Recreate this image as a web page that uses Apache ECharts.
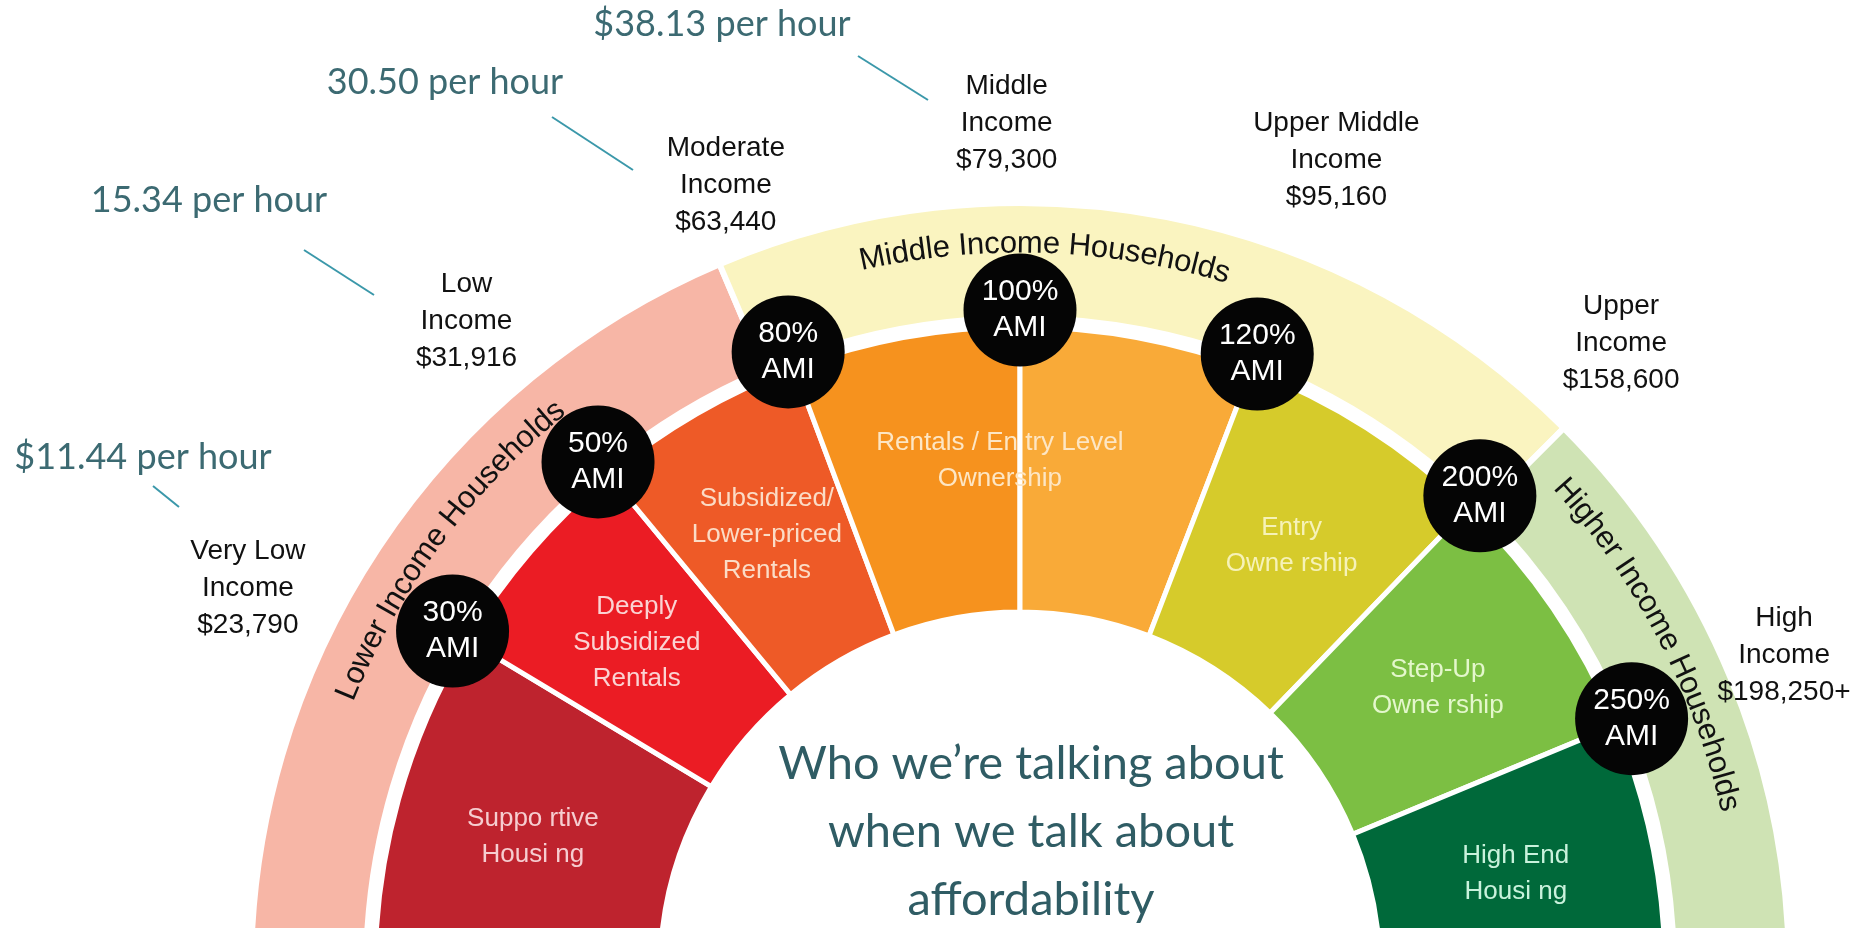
<!DOCTYPE html>
<html>
<head>
<meta charset="utf-8">
<script src="https://cdn.jsdelivr.net/npm/echarts@6/dist/echarts.min.js"></script>
<style>
  html, body { margin: 0; padding: 0; background: #fff; }
  #chart { width: 1872px; height: 928px; }
</style>
</head>
<body>
<div id="chart"></div>
<script>
// AMI thresholds and where they sit on the half ring (deg, 180 = left, 0 = right)
const amiLevels = ['30%', '50%', '80%', '100%', '120%', '200%', '250%'];
const amiAngles = [149, 129.6, 110.5, 90, 69, 46, 22.5];

const incomeGroups = ['Very Low', 'Low', 'Moderate', 'Middle', 'Upper Middle', 'Upper', 'High'];
const incomeValues = ['$23,790', '$31,916', '$63,440', '$79,300', '$95,160', '$158,600', '$198,250+'];

const hourlyWages = ['$11.44', '15.34', '30.50', '$38.13'];

const housingTypes = ['Supportive Housing', 'Deeply Subsidized Rentals', 'Subsidized/Lower-priced Rentals',
    'Rentals', 'Entry Level Ownership', 'Entry Ownership', 'Step-Up Ownership', 'High End Housing'];
const housingLabels = ['Suppo rtive\nHousi ng', 'Deeply\nSubsidized\nRentals', 'Subsidized/\nLower-priced\nRentals',
    '', '', 'Entry\nOwne rship', 'Step-Up\nOwne rship', 'High End\nHousi ng'];

const householdBands = ['Lower Income Households', 'Middle Income Households', 'Higher Income Households'];
const bandEdges = [180, 113, 45, 0];

// layout
const CX = 1020, CY = 972;
const segColors = ['#be232e', '#eb1c24', '#ee5a27', '#f6921e', '#f9aa38', '#d6cb2b', '#7cbf43', '#00693a'];
const segText = ['#f6cdd0', '#fbd3d3', '#fbdcc6', '#fde6c4', '#fde6c4', '#f6f2b8', '#e4f7cc', '#c9f2dc'];
const bandColors = ['#f7b6a6', '#faf4c0', '#cfe3b4'];
const bandTextAngle = [143.5, 88, 27.5];
const labelShift = [4.6, 0.8, 0, 0.9, -0.3, 0.3, 0];
const labelRadius = [862, 854, 840, 849, 871, 870, 827];

const segEdges = [180].concat(amiAngles, [0]);
const segSpans = housingTypes.map((n, i) => segEdges[i] - segEdges[i + 1]);
const bandSpans = householdBands.map((n, i) => bandEdges[i] - bandEdges[i + 1]);

const filler = { value: 180, name: '', itemStyle: { color: 'rgba(0,0,0,0)', borderWidth: 0 }, label: { show: false } };

// curved band titles: one scatter point per character
const ctx = document.createElement('canvas').getContext('2d');
ctx.font = '31px "Liberation Sans"';
function arcChars(text, centerAngle, r) {
    const chars = [...text];
    const widths = chars.map(c => ctx.measureText(c).width);
    const total = widths.reduce((a, b) => a + b, 0);
    const deg = 180 / Math.PI;
    const start = centerAngle + total / 2 / r * deg;
    let acc = 0;
    return chars.map((c, i) => {
        const a = start - (acc + widths[i] / 2) / r * deg;
        acc += widths[i];
        return { name: c, value: [r, a], label: { rotate: a - 90 } };
    });
}
const bandChars = [].concat(...householdBands.map((t, i) => arcChars(t, bandTextAngle[i], 728)));

// the two middle orange slices share one label
const rentalsAngle = (segEdges[3] + segEdges[5]) / 2 + 2.5;

const chart = echarts.init(document.getElementById('chart'));

chart.setOption({
    animation: false,
    backgroundColor: '#fff',
    title: {
        text: 'Who we’re talking about\nwhen we talk about\naffordability',
        left: 1026,
        top: 725,
        textAlign: 'center',
        textStyle: { fontFamily: 'Lato', fontSize: 47, fontWeight: 'normal', color: '#2f5c64', lineHeight: 68 }
    },
    polar: { center: [CX, CY], radius: 1200 },
    angleAxis: { type: 'value', min: 0, max: 360, startAngle: 0, clockwise: false, show: false },
    radiusAxis: { type: 'value', min: 0, max: 1200, show: false },
    series: [
        {
            type: 'pie',
            center: [CX, CY],
            radius: [654, 769],
            startAngle: 180,
            silent: true,
            z: 1,
            labelLine: { show: false },
            label: { show: false },
            itemStyle: { borderColor: '#fff', borderWidth: 6 },
            data: bandSpans.map((v, i) => ({ value: v, name: householdBands[i], itemStyle: { color: bandColors[i] } })).concat([filler])
        },
        {
            type: 'pie',
            center: [CX, CY],
            radius: [360, 645],
            startAngle: 180,
            silent: true,
            z: 2,
            labelLine: { show: false },
            itemStyle: { borderColor: '#fff', borderWidth: 5 },
            label: {
                show: true,
                position: 'inside',
                fontFamily: 'Liberation Sans',
                fontSize: 26,
                lineHeight: 36
            },
            data: segSpans.map((v, i) => ({
                value: v,
                name: housingTypes[i],
                itemStyle: { color: segColors[i] },
                label: { show: housingLabels[i] !== '', formatter: housingLabels[i], color: segText[i] }
            })).concat([filler])
        },
        {
            type: 'scatter',
            coordinateSystem: 'polar',
            silent: true,
            z: 3,
            symbolSize: 0,
            itemStyle: { opacity: 1 },
            label: {
                show: true, position: 'inside', formatter: 'Rentals / En try Level\nOwnership',
                fontFamily: 'Liberation Sans', fontSize: 26, lineHeight: 36, color: '#fde6c4'
            },
            data: [[512, rentalsAngle]]
        },
        {
            type: 'scatter',
            coordinateSystem: 'polar',
            silent: true,
            z: 4,
            symbol: 'circle',
            symbolSize: 113,
            itemStyle: { color: '#050505', opacity: 1 },
            label: {
                show: true, position: 'inside',
                formatter: p => amiLevels[p.dataIndex] + '\nAMI',
                fontFamily: 'Liberation Sans', fontSize: 30, lineHeight: 36, color: '#fff'
            },
            data: amiAngles.map(a => [662, a])
        },
        {
            type: 'scatter',
            coordinateSystem: 'polar',
            silent: true,
            z: 4,
            symbolSize: 0,
            itemStyle: { opacity: 1 },
            label: {
                show: true, position: 'inside',
                formatter: p => incomeGroups[p.dataIndex] + '\nIncome\n' + incomeValues[p.dataIndex],
                fontFamily: 'Liberation Sans', fontSize: 28, lineHeight: 37, color: '#111'
            },
            data: amiAngles.map((a, i) => [labelRadius[i], a + labelShift[i]])
        },
        {
            type: 'scatter',
            coordinateSystem: 'polar',
            silent: true,
            z: 4,
            symbolSize: 0,
            itemStyle: { opacity: 1 },
            label: {
                show: true, position: 'inside', formatter: '{b}',
                fontFamily: 'Liberation Sans', fontSize: 31, color: '#111'
            },
            data: bandChars
        }
    ],
    graphic: [
        { type: 'text', x: 143, y: 457, style: { text: hourlyWages[0] + ' per hour', font: '36px Lato', fill: '#3c6a72', align: 'center', verticalAlign: 'middle' } },
        { type: 'text', x: 209, y: 200, style: { text: hourlyWages[1] + ' per hour', font: '36px Lato', fill: '#3c6a72', align: 'center', verticalAlign: 'middle' } },
        { type: 'text', x: 445, y: 82, style: { text: hourlyWages[2] + ' per hour', font: '36px Lato', fill: '#3c6a72', align: 'center', verticalAlign: 'middle' } },
        { type: 'text', x: 722, y: 24, style: { text: hourlyWages[3] + ' per hour', font: '36px Lato', fill: '#3c6a72', align: 'center', verticalAlign: 'middle' } },
        { type: 'line', shape: { x1: 153, y1: 486, x2: 179, y2: 507 }, style: { stroke: '#3b98aa', lineWidth: 2 } },
        { type: 'line', shape: { x1: 304, y1: 250, x2: 374, y2: 295 }, style: { stroke: '#3b98aa', lineWidth: 2 } },
        { type: 'line', shape: { x1: 552, y1: 117, x2: 633, y2: 170 }, style: { stroke: '#3b98aa', lineWidth: 2 } },
        { type: 'line', shape: { x1: 858, y1: 56, x2: 928, y2: 100 }, style: { stroke: '#3b98aa', lineWidth: 2 } }
    ]
});
</script>
</body>
</html>
